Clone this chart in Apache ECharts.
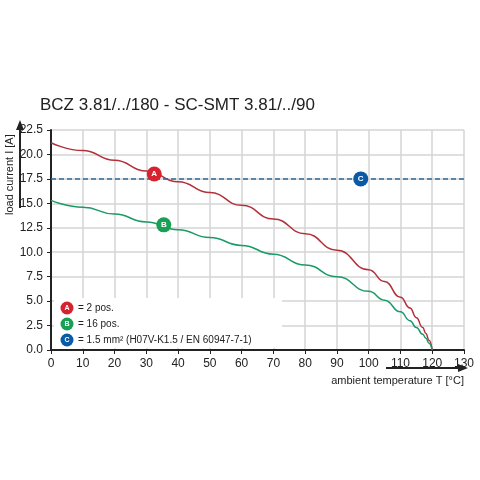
<!DOCTYPE html><html><head><meta charset="utf-8"><script src="https://cdn.jsdelivr.net/npm/echarts@6/dist/echarts.min.js"></script></head><body style="margin:0"><div id="c" style="width:480px;height:480px"></div><script>
const tempA=[0,10,20,30,40,50,60,70,80,90,100,105,110,113,115,117,118,119,120];
const curA=[21.2,20.4,19.4,18.3,17.2,16.1,14.8,13.4,11.9,10.2,8.2,7.0,5.4,4.3,3.3,2.3,1.7,1.0,0];
const tempB=[0,10,20,30,40,50,60,70,80,90,100,105,110,113,115,117,118,119,120];
const curB=[15.3,14.6,13.9,13.1,12.3,11.5,10.7,9.8,8.7,7.5,6.0,5.1,3.9,3.0,2.3,1.6,1.2,0.7,0];
const limitC=17.5;
const markers=[{l:'A',x:32.5,y:18,c:'#d7232f'},{l:'B',x:35.5,y:12.8,c:'#1aa055'},{l:'C',x:97.5,y:17.5,c:'#0b5aa5'}];
const legendItems=[{l:'A',t:'= 2 pos.',c:'#d7232f'},{l:'B',t:'= 16 pos.',c:'#1aa055'},{l:'C',t:'= 1.5 mm² (H07V-K1.5 / EN 60947-7-1)',c:'#0b5aa5'}];
const ch=echarts.init(document.getElementById('c'));
const grid={left:51,right:16,top:130,bottom:130};
const g=[];
legendItems.forEach((it,i)=>{const y=308+i*16;
g.push({type:'circle',shape:{cx:67,cy:y,r:6.5},style:{fill:it.c},z:20});
g.push({type:'text',x:67,y:y,style:{text:it.l,fill:'#fff',font:'bold 7px Arial',align:'center',verticalAlign:'middle'},z:21});
g.push({type:'text',x:78,y:y,style:{text:it.t,fill:'#222',font:'10px "Liberation Sans"',verticalAlign:'middle'},z:21});});
g.push({type:'rect',shape:{x:54,y:298,width:228,height:50},style:{fill:'#fff'},z:10});
g.push({type:'line',shape:{x1:20,y1:208,x2:20,y2:128},style:{stroke:'#222',lineWidth:2},z:20});
g.push({type:'polygon',shape:{points:[[16,130],[24,130],[20,120]]},style:{fill:'#222'},z:20});
g.push({type:'line',shape:{x1:386,y1:368,x2:460,y2:368},style:{stroke:'#222',lineWidth:2},z:20});
g.push({type:'polygon',shape:{points:[[458,364],[458,372],[468,368]]},style:{fill:'#222'},z:20});
g.push({type:'text',x:10,y:215,rotation:Math.PI/2,style:{text:'load current I [A]',fill:'#222',font:'11px "Liberation Sans"',align:'left',verticalAlign:'middle'},z:20});
g.push({type:'text',x:464,y:381,style:{text:'ambient temperature T [°C]',fill:'#222',font:'11px "Liberation Sans"',align:'right',verticalAlign:'middle'},z:20});
g.push({type:'text',x:40,y:105,style:{text:'BCZ 3.81/../180 - SC-SMT 3.81/../90',fill:'#222',font:'17px "Liberation Sans"',verticalAlign:'middle'},z:20});
ch.setOption({animation:false,grid:grid,
xAxis:{type:'value',min:0,max:130,interval:10,axisLine:{lineStyle:{color:'#222',width:2}},axisTick:{show:true,lineStyle:{color:'#222'},length:4},axisLabel:{color:'#222',fontSize:12,fontFamily:'Liberation Sans'},splitLine:{lineStyle:{color:'#d4d4d4',width:1.5}}},
yAxis:{type:'value',min:0,max:22.5,interval:2.5,axisLine:{show:true,lineStyle:{color:'#222',width:2}},axisTick:{show:true,lineStyle:{color:'#222'},length:4},axisLabel:{color:'#222',fontSize:12,fontFamily:'Liberation Sans',formatter:v=>v.toFixed(1)},splitLine:{lineStyle:{color:'#d4d4d4',width:1.5}}},
series:[
{type:'line',data:tempA.map((t,i)=>[t,curA[i]]),smooth:0.5,smoothMonotone:'x',symbol:'none',lineStyle:{color:'#b3303a',width:1.5},z:5},
{type:'line',data:tempB.map((t,i)=>[t,curB[i]]),smooth:0.5,smoothMonotone:'x',symbol:'none',lineStyle:{color:'#1a9a66',width:1.5},z:5},
{type:'line',data:[[0,limitC],[130,limitC]],symbol:'none',lineStyle:{color:'#2a6a9a',width:1.5,type:[5,3]},z:5},
{type:'scatter',data:markers.map(m=>({value:[m.x,m.y],itemStyle:{color:m.c,opacity:1},label:{show:true,formatter:m.l,color:'#fff',fontSize:8,fontWeight:'bold'}})),symbolSize:15,z:8}
],graphic:g});
</script></body></html>
